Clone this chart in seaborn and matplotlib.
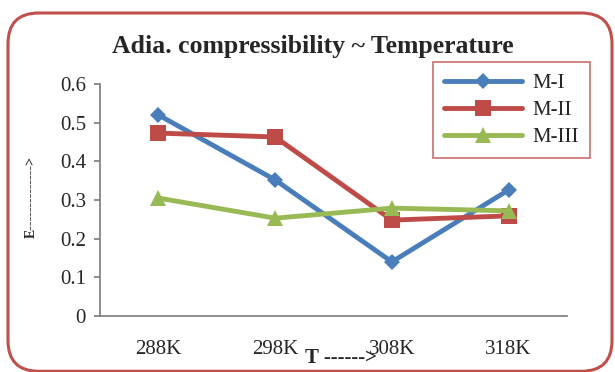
import matplotlib
matplotlib.use("Agg")
import matplotlib.pyplot as plt
import seaborn as sns
import pandas as pd
from matplotlib.patches import FancyBboxPatch

categories = ["288K", "298K", "308K", "318K"]
m1 = [0.520, 0.352, 0.140, 0.326]
m2 = [0.473, 0.463, 0.248, 0.259]
m3 = [0.305, 0.253, 0.279, 0.272]
series_names = ["M-I", "M-II", "M-III"]
yticks = [0, 0.1, 0.2, 0.3, 0.4, 0.5, 0.6]

rows = []
for name, vals in zip(series_names, [m1, m2, m3]):
    for c, v in zip(categories, vals):
        rows.append({"T": c, "val": v, "series": name})
df = pd.DataFrame(rows)

sns.set_theme(style="white")
plt.rcParams["font.family"] = ["Liberation Serif", "DejaVu Serif"]

W, H = 615, 372
fig = plt.figure(figsize=(W / 100, H / 100), dpi=100)
ax = fig.add_axes([100 / W, 1 - 316 / H, 467 / W, 232 / H])

palette = {"M-I": "#4A7EBB", "M-II": "#BE4B48", "M-III": "#98B954"}
markers = {"M-I": "D", "M-II": "s", "M-III": "^"}
sizes = {"M-I": 8, "M-II": 11, "M-III": 11}
for name in series_names:
    sub = df[df.series == name]
    sns.lineplot(data=sub, x="T", y="val", ax=ax, color=palette[name],
                 marker=markers[name], markersize=sizes[name], linewidth=3.5,
                 markeredgewidth=0, label=name, sort=False)

ax.set_xlim(-0.5, 3.5)
ax.set_ylim(0, 0.6)
ax.set_yticks(yticks)
ax.set_yticklabels([f"{t:g}" for t in yticks], fontsize=15)
ax.set_xticks(range(len(categories)))
ax.set_xticklabels(categories, fontsize=15)
ax.tick_params(axis="x", length=0, pad=17)
ax.tick_params(axis="y", length=4, direction="out", color="#808080", left=True, pad=6)
for s in ["top", "right"]:
    ax.spines[s].set_visible(False)
ax.spines["left"].set_color("#808080")
ax.spines["bottom"].set_color("#808080")
ax.set_xlabel("")
ax.set_ylabel("")

fig.text(313 / W, 1 - 47 / H, "Adia. compressibility ~ Temperature", ha="center",
         va="center", fontsize=18.5, fontweight="bold")
fig.text(341 / W, 1 - 358 / H, "T ------>", ha="center", va="center",
         fontsize=15, fontweight="bold")
fig.text(31 / W, 1 - 197 / H, "E-------------->", rotation=90, ha="center",
         va="center", fontsize=10, fontweight="bold")

leg = ax.legend(loc="upper left", bbox_to_anchor=(433 / W, 1 - 62 / H),
                bbox_transform=fig.transFigure, fontsize=15, frameon=True,
                fancybox=False, handlelength=3.7, borderpad=0.55,
                labelspacing=0.35, handletextpad=0.5, borderaxespad=0)
leg.get_frame().set_edgecolor("#BE4B48")
leg.get_frame().set_linewidth(1.2)

border = FancyBboxPatch((8 / W, 0.002), 604 / W, 1 - 13 / H - 0.002,
                        boxstyle="round,pad=0,rounding_size=0.05",
                        transform=fig.transFigure, fill=False,
                        edgecolor="#C0504D", linewidth=2.2,
                        mutation_aspect=W / H)
fig.patches.append(border)

fig.savefig("out.png", dpi=100)
